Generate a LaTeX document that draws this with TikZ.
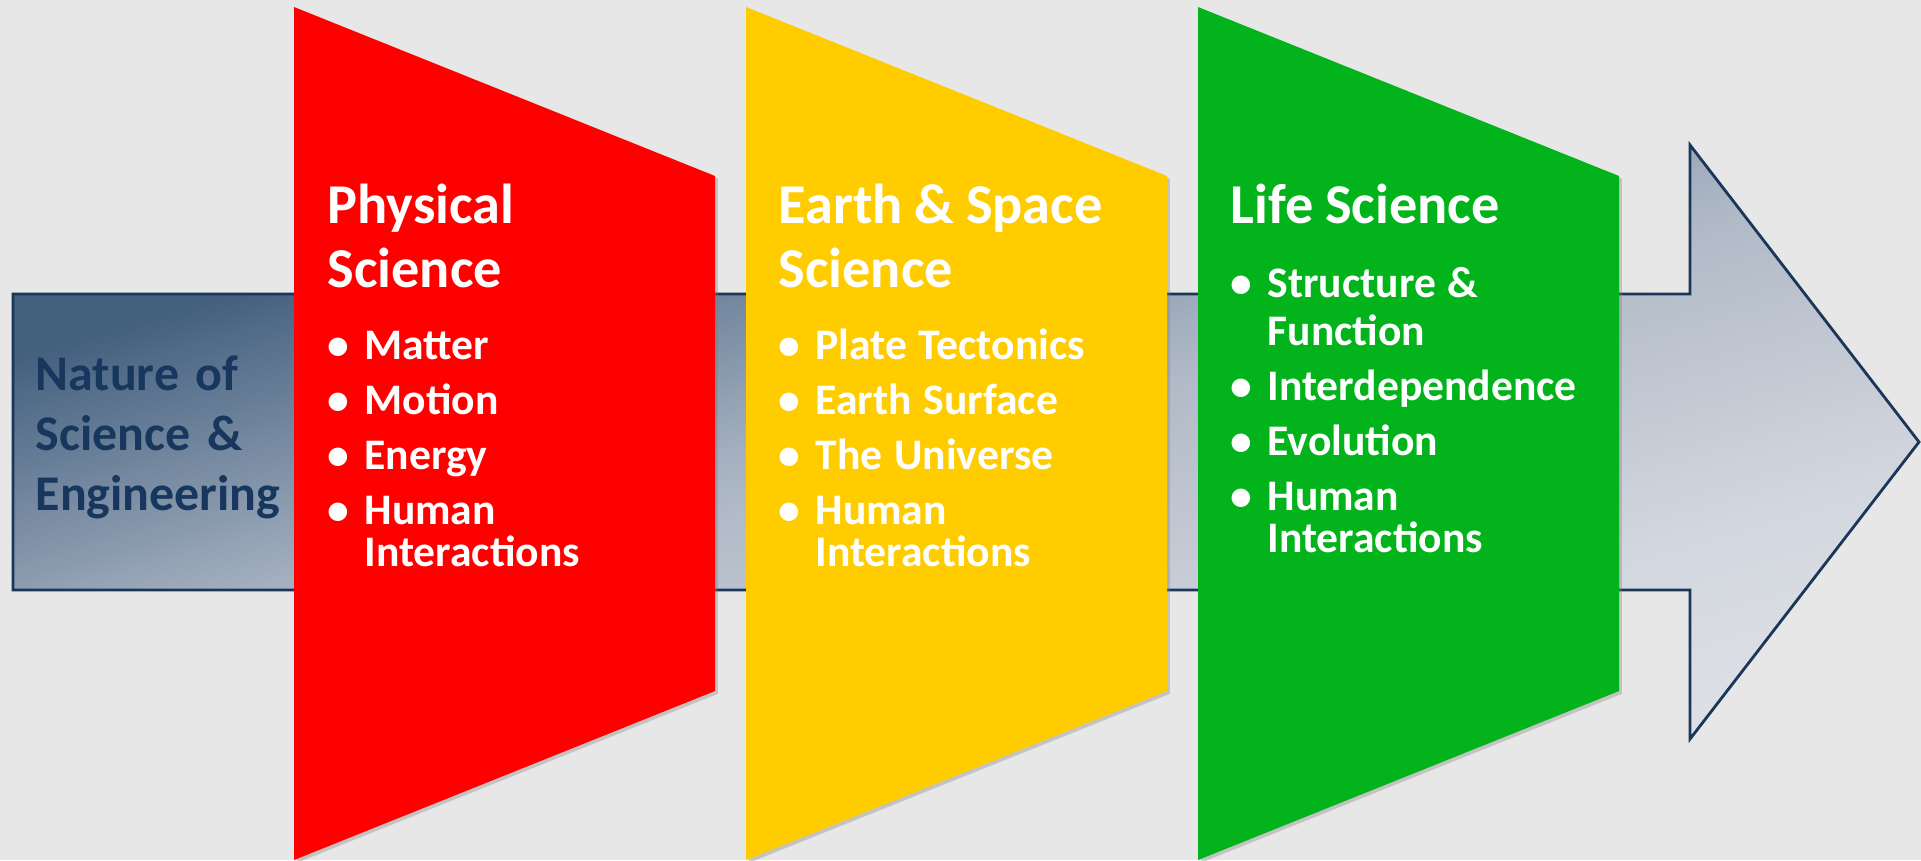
\documentclass[tikz,border=0pt]{standalone}
\usepackage{fontspec}
\setmainfont{Carlito}
\usetikzlibrary{shadows}

\definecolor{bggray}{HTML}{E7E7E7}
\definecolor{arrowdark}{HTML}{44607F}
\definecolor{arrowmid}{HTML}{A3AFBF}
\definecolor{arrowpale}{HTML}{B1BAC7}
\definecolor{arrowsoft}{HTML}{D2D6DE}
\definecolor{arrowlight}{HTML}{DCDFE5}
\definecolor{arrowline}{HTML}{1A3659}
\definecolor{naturetext}{HTML}{17375E}
\definecolor{physred}{HTML}{FF0000}
\definecolor{earthyellow}{HTML}{FFCC00}
\definecolor{lifegreen}{HTML}{02B31B}

% slate fill of the arrow, dark only towards the upper left
\pgfdeclareverticalshading{arrowshade}{100bp}{color(0bp)=(arrowlight); color(38bp)=(arrowlight);
  color(42.5bp)=(arrowsoft); color(50bp)=(arrowpale); color(51.5bp)=(arrowmid);
  color(59bp)=(arrowdark); color(100bp)=(arrowdark)}

% text sizes
\newcommand\headfont{\fontsize{16}{18.2}\selectfont\bfseries}
\newcommand\itemfont{\fontsize{12.4}{13.4}\selectfont\bfseries}
\newcommand\sidefont{\fontsize{14.2}{17.1}\selectfont\bfseries}
% one bullet line, and its indented second line
\newcommand\bitem[1]{\par\vspace{2.3pt}\noindent\makebox[10.5pt][l]{\textbullet}#1}
\newcommand\bcont[1]{\par\noindent\hspace*{10.5pt}#1}

\tikzset{
  sciblock/.style={text=white, text width=3.9cm, align=left, inner sep=0pt, anchor=base west},
  panel/.style={drop shadow={opacity=0.35, shadow xshift=0.8pt, shadow yshift=-0.8pt}}
}

\begin{document}
\begin{tikzpicture}[x=0.01cm, y=-0.01cm]
\fill[bggray] (0,0) rectangle (1921,860);
\useasboundingbox (0,0) rectangle (1921,860);

% the big arrow behind everything
\draw[arrowline, line width=0.8pt,
      path picture={\shade[shading=arrowshade, shading angle=16] (11,-513) rectangle (1921,1397);}]
  (13,294) -- (1690,294) -- (1690,145) -- (1919,442) -- (1690,739) -- (1690,590) -- (13,590) -- cycle;

% the three panels
\foreach \x/\col in {294/physred, 746/earthyellow, 1198/lifegreen}
  \fill[\col, panel] (\x,7) -- (\x+421,176) -- (\x+421,691) -- (\x,860) -- cycle;

\node[text width=5cm, align=left, inner sep=0pt, anchor=base west, text=naturetext, font=\sidefont] (nature) at (35,390)
  {Nature of\\Science \&\\Engineering};

\node[sciblock] (phys) at (327,223)
  {{\headfont Physical\\Science\par}\vspace{4.8pt}\itemfont
   \bitem{Matter}\bitem{Motion}\bitem{Energy}\bitem{Human}\bcont{Interactions}};
\node[sciblock] (earth) at (778,223)
  {{\headfont Earth \& Space\\Science\par}\vspace{4.8pt}\itemfont
   \bitem{Plate Tectonics}\bitem{Earth Surface}\bitem{The Universe}\bitem{Human}\bcont{Interactions}};
\node[sciblock] (life) at (1230,223)
  {{\headfont Life Science\par}\vspace{5.6pt}\itemfont
   \bitem{Structure \&}\bcont{Function}\bitem{Interdependence}\bitem{Evolution}\bitem{Human}\bcont{Interactions}};
\end{tikzpicture}
\end{document}
